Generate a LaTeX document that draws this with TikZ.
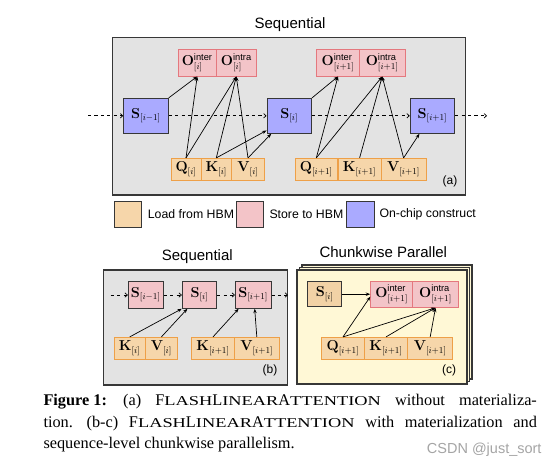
\documentclass[tikz,border=0pt]{standalone}
\usepackage{amsmath}
\usepackage{graphicx}
\usepackage[no-math]{fontspec}
\setmainfont{Liberation Serif}
\setsansfont{Liberation Sans}
\usetikzlibrary{arrows.meta,calc}
\definecolor{orangefill}{RGB}{246,214,170}
\definecolor{orangeborder}{RGB}{238,160,72}
\definecolor{pinkfill}{RGB}{243,196,200}
\definecolor{pinkborder}{RGB}{228,120,126}
\definecolor{bluefill}{RGB}{170,170,255}
\definecolor{darkline}{RGB}{55,55,55}
\definecolor{graybg}{RGB}{227,227,227}
\definecolor{yellowbg}{RGB}{255,248,214}
\definecolor{tanfill}{RGB}{242,210,166}
\definecolor{wmgray}{RGB}{165,165,165}
\newcommand{\fakesc}[1]{\scalebox{1.36}[1]{\fontsize{13.5}{14}\selectfont #1}}
\newcommand{\FLA}{F\fakesc{LASH}L\fakesc{INEAR}A\fakesc{TTENTION}}
\begin{document}
\begin{tikzpicture}[x=1pt,y=-1pt,
  box/.style={draw, line width=0.9pt, inner sep=0pt, font=\fontsize{13.3}{15}\selectfont},
  load/.style={box, fill=orangefill, draw=orangeborder},
  store/.style={box, fill=pinkfill, draw=pinkborder},
  chip/.style={box, fill=bluefill, draw=darkline},
  panel/.style={draw=darkline, line width=1.1pt, inner sep=0pt},
  ttl/.style={font=\sffamily\fontsize{15}{17}\selectfont},
  tag/.style={font=\sffamily\fontsize{12}{14}\selectfont},
  legtext/.style={font=\sffamily\fontsize{12.3}{14}\selectfont, anchor=west, inner sep=0pt},
  flow/.style={-{Stealth[length=4.5pt,width=3.4pt]}, line width=0.7pt, black},
  dflow/.style={-{Straight Barb[length=2.4pt,width=4.4pt]}, dashed, dash pattern=on 3.2pt off 3.2pt, line width=0.7pt, black},
  legbox/.style={draw=darkline, line width=0.9pt, minimum width=27.4pt, minimum height=26.3pt, inner sep=0pt}
]
\useasboundingbox (0,0) rectangle (553,467);
\fill[white] (0,0) rectangle (553,467);

% ---------------- (a) ----------------
\node[ttl] (ttla) at (290,25) {Sequential};
\node[panel, fill=graybg, minimum width=353pt, minimum height=157.3pt] (boxa) at (289.2,116.35) {};

\node[store, minimum width=37.7pt, minimum height=26.7pt] (Oe1) at (197.2,62.7) {$\mathbf{O}^{\textsf{inter}}_{[i]}$};
\node[store, minimum width=40.7pt, minimum height=26.7pt] (Oa1) at (236.3,62.7) {$\mathbf{O}^{\textsf{intra}}_{[i]}$};
\node[store, minimum width=42.6pt, minimum height=26.7pt] (Oe2) at (338,62.7) {$\mathbf{O}^{\textsf{inter}}_{[i+1]}$};
\node[store, minimum width=45.7pt, minimum height=26.7pt] (Oa2) at (382.2,62.7) {$\mathbf{O}^{\textsf{intra}}_{[i+1]}$};

\node[chip, minimum width=44.6pt, minimum height=35pt] (Sa0) at (146,115.8) {$\mathbf{S}_{[i-1]}$};
\node[chip, minimum width=44.6pt, minimum height=35pt] (Sa1) at (289.3,115.8) {$\mathbf{S}_{[i]}$};
\node[chip, minimum width=44.6pt, minimum height=35pt] (Sa2) at (432.5,115.8) {$\mathbf{S}_{[i+1]}$};

\node[load, minimum width=30pt, minimum height=21.7pt] (Qa1) at (186,169.2) {$\mathbf{Q}_{[i]}$};
\node[load, minimum width=30.7pt, minimum height=21.7pt] (Ka1) at (216.3,169.2) {$\mathbf{K}_{[i]}$};
\node[load, minimum width=32.6pt, minimum height=21.7pt] (Va1) at (248,169.2) {$\mathbf{V}_{[i]}$};
\node[load, minimum width=42.7pt, minimum height=21.7pt] (Qa2) at (316.3,169.2) {$\mathbf{Q}_{[i+1]}$};
\node[load, minimum width=43.3pt, minimum height=21.7pt] (Ka2) at (359.6,169.2) {$\mathbf{K}_{[i+1]}$};
\node[load, minimum width=44.7pt, minimum height=21.7pt] (Va2) at (403.6,169.2) {$\mathbf{V}_{[i+1]}$};

\node[tag] (taga) at (450,181.7) {(a)};

\coordinate (dina) at (88,115.8);
\coordinate (douta) at (487,115.8);
\draw[dflow] (dina) -- (Sa0.west);
\draw[dflow] (Sa0.east) -- (Sa1.west);
\draw[dflow] (Sa1.east) -- (Sa2.west);
\draw[dflow] (Sa2.east) -- (douta);

\draw[flow] (Sa0.north east) -- (Oe1.south);
\draw[flow] (Qa1.north) -- (Oe1.south);
\draw[flow] (Qa1.north) -- (Oa1.south);
\draw[flow] (Ka1.north) -- (Oa1.south);
\draw[flow] (Va1.north) -- (Oa1.south);
\draw[flow] (Ka1.north) -- ($(Sa1.south west)+(0,-3.3)$);
\draw[flow] (Va1.north) -- ($(Sa1.south west)+(4.7,0)$);

\draw[flow] (Sa1.north east) -- (Oe2.south);
\draw[flow] (Qa2.north) -- (Oe2.south);
\draw[flow] (Qa2.north) -- (Oa2.south);
\draw[flow] (Ka2.north) -- (Oa2.south);
\draw[flow] (Va2.north) -- (Oa2.south);
\draw[flow] (Va2.north) -- ($(Sa2.south west)+(9.7,0)$);

% ---------------- legend ----------------
\node[legbox, fill=orangefill] (lg1) at (128,214.2) {};
\node[legbox, fill=pinkfill] (lg2) at (249.7,214.2) {};
\node[legbox, fill=bluefill] (lg3) at (360.5,214.2) {};
\node[legtext] (lt1) at (147.7,214.3) {Load from HBM};
\node[legtext] (lt2) at (269.3,214.3) {Store to HBM};
\node[legtext] (lt3) at (379.3,214.3) {On-chip construct};

% ---------------- (b) ----------------
\node[ttl] (ttlb) at (197.3,256.7) {Sequential};
\node[panel, fill=graybg, minimum width=183.7pt, minimum height=115pt] (boxb) at (195.2,327.5) {};

\node[box, fill=pinkfill, draw=darkline, minimum width=35pt, minimum height=26.6pt] (Sb0) at (145.8,295) {$\mathbf{S}_{[i-1]}$};
\node[box, fill=pinkfill, draw=darkline, minimum width=34.4pt, minimum height=26.6pt] (Sb1) at (199.5,295) {$\mathbf{S}_{[i]}$};
\node[box, fill=pinkfill, draw=darkline, minimum width=35.7pt, minimum height=26.6pt] (Sb2) at (253.2,295) {$\mathbf{S}_{[i+1]}$};

\node[load, minimum width=30.7pt, minimum height=21.7pt] (Kb1) at (129.7,348.2) {$\mathbf{K}_{[i]}$};
\node[load, minimum width=32.7pt, minimum height=21.7pt] (Vb1) at (161.4,348.2) {$\mathbf{V}_{[i]}$};
\node[load, minimum width=42.6pt, minimum height=21.7pt] (Kb2) at (213,348.2) {$\mathbf{K}_{[i+1]}$};
\node[load, minimum width=45pt, minimum height=21.7pt] (Vb2) at (256.8,348.2) {$\mathbf{V}_{[i+1]}$};

\node[tag] (tagb) at (270,370) {(b)};

\coordinate (dinb) at (110.7,295);
\coordinate (doutb) at (288,295);
\draw[dflow] (dinb) -- (Sb0.west);
\draw[dflow] (Sb0.east) -- (Sb1.west);
\draw[dflow] (Sb1.east) -- (Sb2.west);
\draw[dflow] (Sb2.east) -- (doutb);

\draw[flow] (Kb1.north) -- (Sb1.south west);
\draw[flow] (Vb1.north) -- ($(Sb1.south west)+(5.5,0)$);
\draw[flow] (Kb2.north) -- ($(Sb2.south west)+(3.7,0)$);
\draw[flow] (Vb2.north) -- ($(Sb2.south)+(1.5,0)$);

% ---------------- (c) ----------------
\node[ttl] (ttlc) at (383.3,251.7) {Chunkwise Parallel};
\node[panel, fill=yellowbg, minimum width=170pt, minimum height=114pt] (pg3) at (387,322) {};
\node[panel, fill=yellowbg, minimum width=170pt, minimum height=114pt] (pg2) at (384.5,324.5) {};
\node[panel, fill=yellowbg, minimum width=170pt, minimum height=114pt] (boxc) at (382,327) {};

\node[box, fill=tanfill, draw=darkline, minimum width=34pt, minimum height=25pt] (Sc) at (324.7,294.2) {$\mathbf{S}_{[i]}$};
\node[store, minimum width=42pt, minimum height=26.3pt] (Oec) at (391.7,294.2) {$\mathbf{O}^{\textsf{inter}}_{[i+1]}$};
\node[store, minimum width=45.6pt, minimum height=26.3pt] (Oac) at (435.5,294.2) {$\mathbf{O}^{\textsf{intra}}_{[i+1]}$};

\node[load, minimum width=42.6pt, minimum height=21.7pt] (Qc) at (343,348.2) {$\mathbf{Q}_{[i+1]}$};
\node[load, minimum width=43.4pt, minimum height=21.7pt] (Kc) at (386,348.2) {$\mathbf{K}_{[i+1]}$};
\node[load, minimum width=45pt, minimum height=21.7pt] (Vc) at (430.2,348.2) {$\mathbf{V}_{[i+1]}$};

\node[tag] (tagc) at (449,370) {(c)};

\draw[flow] (Sc.east) -- (Oec.west);
\draw[flow] (Qc.north) -- ($(Oec.west)+(0,2.5)$);
\draw[flow] (Qc.north) -- (Oac.south);
\draw[flow] (Kc.north) -- (Oac.south);
\draw[flow] (Vc.north) -- (Oac.south);

% ---------------- caption ----------------
\begin{scope}[every node/.style={inner sep=0pt, anchor=base west, font=\fontsize{16.3}{21}\selectfont}]
\node (cap1) at (43.3,405.7) {\makebox[493.4pt][s]{\textbf{Figure\kern0.25em1:}\hspace{2pt}\ (a) \FLA{} without materializa-}};
\node (cap2) at (43.3,427.2) {\makebox[493.4pt][s]{tion.\hspace{3pt}\ (b-c) \FLA{} with materialization and}};
\node (cap3) at (43.3,448.5) {sequence-level chunkwise parallelism.};
\end{scope}
\node[anchor=base west, inner sep=0pt, text=wmgray, font=\sffamily\fontsize{14.5}{16}\selectfont] (wm) at (426.7,453.5) {CSDN @just\_sort};
\end{tikzpicture}
\end{document}
